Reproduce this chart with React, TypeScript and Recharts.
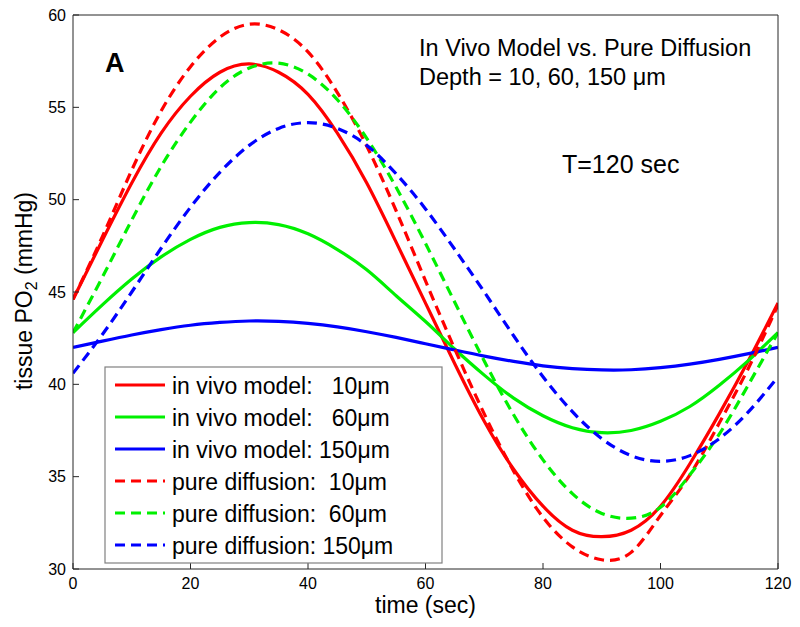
import React from 'react';
import { LineChart, Line, XAxis, YAxis } from 'recharts';

const time = [0, 5, 10, 15, 20, 25, 30, 35, 40, 45, 50, 55, 60, 65, 70, 75, 80, 85, 90, 95, 100, 105, 110, 115, 120];

const vivo10 = [44.6, 47.8, 50.9, 53.6, 55.6, 56.9, 57.35, 56.9, 55.7, 53.6, 50.9, 47.7, 44.4, 41.1, 38.0, 35.4, 33.4, 32.1, 31.75, 32.1, 33.4, 35.7, 38.4, 41.3, 44.4];
const vivo60 = [42.8, 44.3, 45.7, 46.9, 47.85, 48.5, 48.76, 48.65, 48.15, 47.3, 46.2, 44.8, 43.4, 41.9, 40.5, 39.25, 38.3, 37.65, 37.38, 37.5, 38.0, 38.8, 39.95, 41.3, 42.8];
const vivo150 = [42.0, 42.34, 42.67, 42.96, 43.2, 43.35, 43.43, 43.41, 43.3, 43.11, 42.85, 42.54, 42.2, 41.86, 41.53, 41.24, 41.0, 40.85, 40.78, 40.79, 40.9, 41.09, 41.35, 41.66, 42.0];
const diff10 = [44.6, 48.0, 51.6, 54.8, 57.2, 58.8, 59.5, 59.2, 58.0, 55.8, 52.9, 49.4, 45.6, 41.9, 38.4, 35.3, 32.8, 31.2, 30.5, 30.9, 32.9, 35.1, 37.9, 40.9, 44.3];
const diff60 = [42.8, 45.8, 48.9, 51.8, 54.2, 56.06, 57.13, 57.39, 56.8, 55.41, 53.32, 50.67, 47.63, 44.43, 41.26, 38.35, 35.91, 34.08, 33.01, 32.75, 33.34, 35.1, 37.3, 40.0, 42.8];
const diff150 = [40.6, 42.7, 45.0, 47.37, 49.59, 51.48, 52.94, 53.86, 54.17, 53.86, 52.94, 51.4, 49.5, 47.3, 45.0, 42.63, 40.41, 38.52, 37.06, 36.14, 35.83, 36.14, 37.06, 38.52, 40.41];

const xTicks = [0, 20, 40, 60, 80, 100, 120];
const yTicks = [30, 35, 40, 45, 50, 55, 60];

const RED = '#ff0000';
const GREEN = '#00f000';
const BLUE = '#0000ff';
const DASH = '10 6';

const series = [
  { key: 'vivo10', label: 'in vivo model:   10\u03bcm', color: RED, dash: undefined as string | undefined, values: vivo10 },
  { key: 'vivo60', label: 'in vivo model:   60\u03bcm', color: GREEN, dash: undefined as string | undefined, values: vivo60 },
  { key: 'vivo150', label: 'in vivo model: 150\u03bcm', color: BLUE, dash: undefined as string | undefined, values: vivo150 },
  { key: 'diff10', label: 'pure diffusion:  10\u03bcm', color: RED, dash: DASH, values: diff10 },
  { key: 'diff60', label: 'pure diffusion:  60\u03bcm', color: GREEN, dash: DASH, values: diff60 },
  { key: 'diff150', label: 'pure diffusion: 150\u03bcm', color: BLUE, dash: DASH, values: diff150 },
];

const data = time.map((t, i) => {
  const row: Record<string, number> = { t };
  series.forEach((s) => {
    row[s.key] = s.values[i];
  });
  return row;
});

const FONT = '"Liberation Sans", Arial, Helvetica, sans-serif';
const FRAME = '#262626';
const tickStyle = { fontSize: 16, fill: '#000', fontFamily: FONT };

export default function App() {
  return (
    <div style={{ position: 'absolute', left: 0, top: 0, width: 800, height: 627, background: '#fff', fontFamily: FONT }}>
      <LineChart width={800} height={627} data={data} margin={{ top: 0, right: 0, bottom: 0, left: 0 }}>
        <XAxis
          dataKey="t"
          type="number"
          domain={[0, 120]}
          ticks={xTicks}
          height={58}
          tickSize={-6}
          tickMargin={15}
          stroke={FRAME}
          tick={tickStyle}
          interval={0}
          allowDataOverflow
        />
        <XAxis
          xAxisId="top"
          orientation="top"
          dataKey="t"
          type="number"
          domain={[0, 120]}
          ticks={xTicks}
          height={15}
          tickSize={-6}
          stroke={FRAME}
          tick={false}
          allowDataOverflow
        />
        <YAxis
          type="number"
          domain={[30, 60]}
          ticks={yTicks}
          width={73}
          tickSize={-6}
          tickMargin={13}
          stroke={FRAME}
          tick={tickStyle}
          interval={0}
          allowDataOverflow
        />
        <YAxis
          yAxisId="right"
          orientation="right"
          type="number"
          domain={[30, 60]}
          ticks={yTicks}
          width={22}
          tickSize={-6}
          stroke={FRAME}
          tick={false}
          allowDataOverflow
        />
        {series.map((s) => (
          <Line
            key={s.key}
            dataKey={s.key}
            type="natural"
            stroke={s.color}
            strokeWidth={3.2}
            strokeDasharray={s.dash}
            dot={false}
            activeDot={false}
            isAnimationActive={false}
          />
        ))}
      </LineChart>
      <svg
        width={800}
        height={627}
        style={{ position: 'absolute', left: 0, top: 0, pointerEvents: 'none', fontFamily: FONT }}
      >
        <text x={105} y={72} fontSize={27} fontWeight="bold" fill="#000">A</text>
        <text x={419} y={56} fontSize={23.5} fill="#000">In Vivo Model vs. Pure Diffusion</text>
        <text x={419} y={85} fontSize={23.5} fill="#000">Depth = 10, 60, 150 {'\u03bcm'}</text>
        <text x={562} y={173} fontSize={25} fill="#000">T=120 sec</text>
        <text x={425.5} y={613} fontSize={23} textAnchor="middle" fill="#000">time (sec)</text>
        <text x={32} y={291} fontSize={23} textAnchor="middle" fill="#000" transform="rotate(-90, 32, 291)">
          tissue PO<tspan fontSize={16} dy={5}>2</tspan><tspan dy={-5}> (mmHg)</tspan>
        </text>
        <rect x={105} y={367} width={337} height={196} fill="#fff" stroke="#808080" strokeWidth={1.2} />
        {series.map((s, i) => {
          const cy = 385 + i * 32;
          return (
            <g key={s.key}>
              <line x1={115} x2={165} y1={cy} y2={cy} stroke={s.color} strokeWidth={3.2} strokeDasharray={s.dash} />
              <text x={172} y={cy + 9} fontSize={23} fill="#000" style={{ whiteSpace: 'pre' }} xmlSpace="preserve">
                {s.label}
              </text>
            </g>
          );
        })}
      </svg>
    </div>
  );
}
